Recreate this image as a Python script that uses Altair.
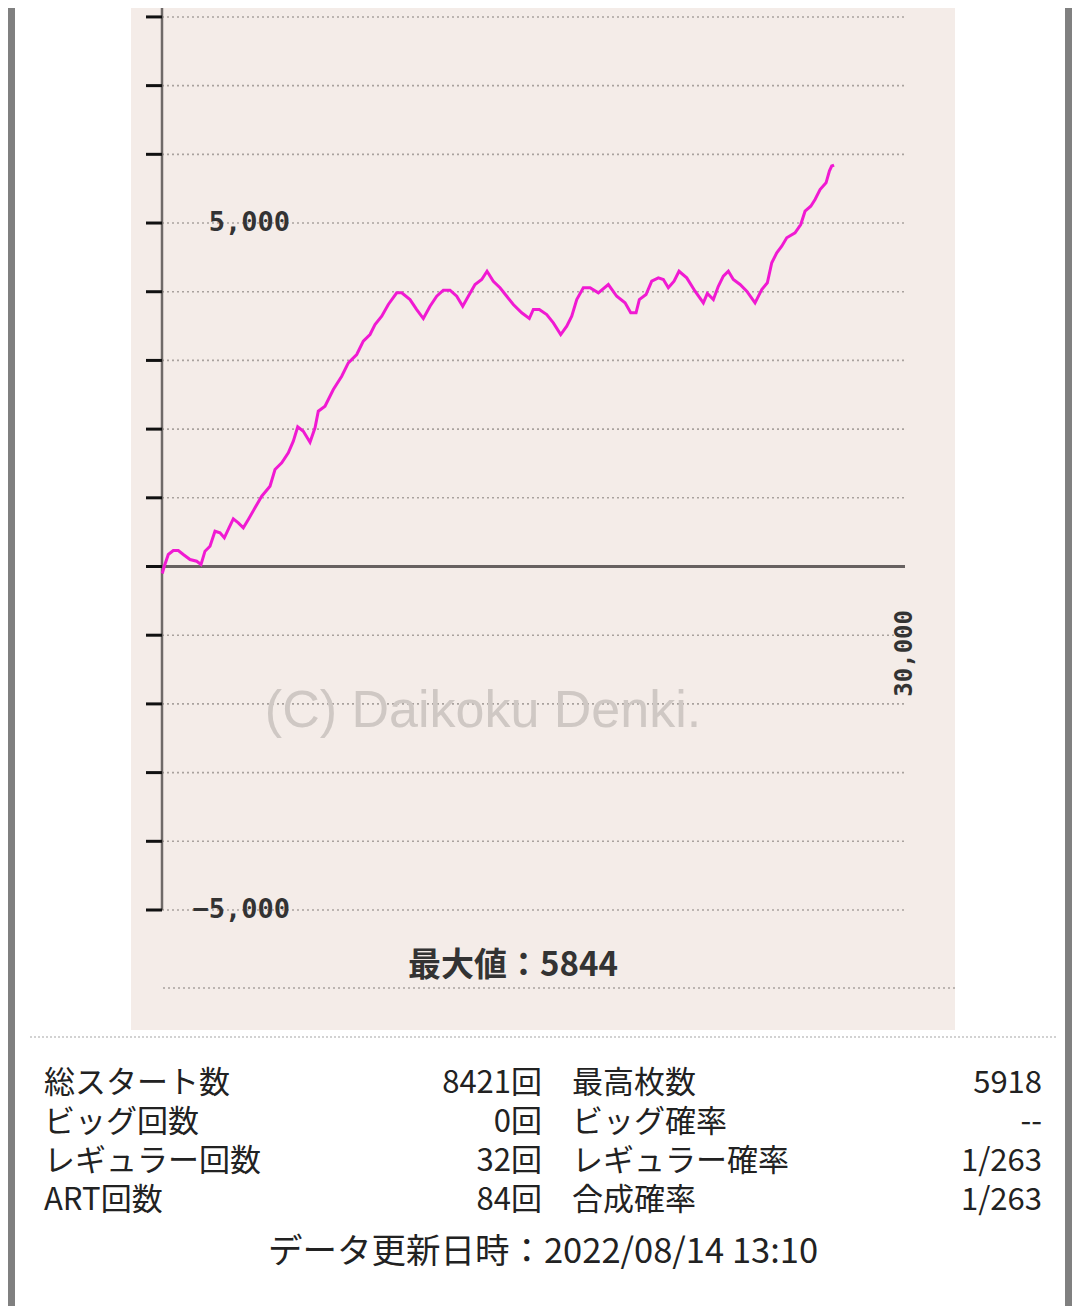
import altair as alt
import pandas as pd

# ---- data ----
games = [10, 93, 254, 456, 658, 860, 1131, 1401, 1575, 1736, 1938, 2140, 2342, 2516, 2705,
         2879, 3081, 3283, 3485, 3755, 4026, 4361, 4563, 4834, 5100, 5302, 5480, 5706, 5976,
         6178, 6311, 6582, 6917, 7256, 7523, 7862, 8128, 8399, 8601, 8872, 9138, 9477, 9679,
         10014, 10285, 10551, 10822, 11092, 11359, 11629, 11900, 12142, 12368, 12639, 12909,
         13124, 13378, 13648, 13919, 14185, 14525, 14831, 14993, 15235, 15534, 15801, 16099,
         16342, 16544, 16746, 17012, 17283, 17618, 18022, 18361, 18696, 18926, 19140, 19273,
         19544, 19774, 20041, 20243, 20444, 20675, 20876, 21187, 21523, 21858, 22019, 22262,
         22463, 22665, 22867, 23069, 23340, 23610, 23945, 24216, 24442, 24620, 24822, 25023,
         25225, 25560, 25791, 25964, 26195, 26368, 26570, 26812, 26950, 27040, 27136]
medals = [-102, 4, 175, 233, 233, 175, 102, 77, 29, 223, 295, 514, 491, 418, 563,
          694, 636, 563, 684, 854, 1023, 1169, 1412, 1509, 1655, 1824, 2033, 1969, 1809,
          2019, 2261, 2333, 2576, 2770, 2965, 3086, 3280, 3377, 3523, 3643, 3814, 3984, 3984,
          3886, 3741, 3610, 3789, 3934, 4022, 4022, 3934, 3789, 3934, 4105, 4178,
          4298, 4153, 4057, 3934, 3814, 3693, 3610, 3741, 3741, 3668, 3547, 3377,
          3498, 3643, 3886, 4057, 4057, 3984, 4105, 3934, 3838, 3693, 3693, 3886,
          3959, 4153, 4202, 4178, 4057, 4153, 4298, 4202, 4007, 3838, 3974, 3886,
          4080, 4226, 4298, 4178, 4105, 4007, 3838, 4032, 4130, 4421, 4566, 4662,
          4785, 4857, 4978, 5172, 5245, 5342, 5488, 5585, 5760, 5830, 5844]

grid_values = [8000, 7000, 6000, 5000, 4000, 3000, 2000, 1000,
               -1000, -2000, -3000, -4000, -5000]
tick_values = [8000, 7000, 6000, 5000, 4000, 3000, 2000, 1000, 0,
               -1000, -2000, -3000, -4000, -5000]
y_label_values = [5000, -5000]
x_label_value = 30000
max_value = 5844

left_labels = ["総スタート数", "ビッグ回数", "レギュラー回数", "ART回数"]
left_values = ["8421回", "0回", "32回", "84回"]
right_labels = ["最高枚数", "ビッグ確率", "レギュラー確率", "合成確率"]
right_values = ["5918", "--", "1/263", "1/263"]
updated = "2022/08/14 13:10"

# ---- build ----
W, H = 1064, 1298
xs = alt.Scale(domain=[0, 30000], range=[154, 897], nice=False, zero=False)
ys = alt.Scale(domain=[-5000, 8130], range=[902, 0], nice=False, zero=False)

one = alt.Chart(pd.DataFrame({"k": [0]}))

side_left = one.mark_rect(color="#808080").encode(
    x=alt.value(0), x2=alt.value(7), y=alt.value(-10), y2=alt.value(H + 10))
side_right = one.mark_rect(color="#808080").encode(
    x=alt.value(1057), x2=alt.value(W), y=alt.value(-10), y2=alt.value(H + 10))
panel = one.mark_rect(color="#f4ece8").encode(
    x=alt.value(123), x2=alt.value(947), y=alt.value(-10), y2=alt.value(1022))

grid_df = pd.DataFrame({"v": grid_values})
grid = alt.Chart(grid_df).transform_calculate(x0="0", x1="30000").mark_rule(
    color="#a9a29e", strokeDash=[2, 3], strokeWidth=1.6
).encode(
    y=alt.Y("v:Q", scale=ys, axis=None),
    x=alt.X("x0:Q", scale=xs, axis=None),
    x2="x1:Q",
)

bottom_dots = one.mark_rule(color="#a9a29e", strokeDash=[2, 3], strokeWidth=1.6).encode(
    x=alt.value(155), x2=alt.value(947), y=alt.value(980))

sep = one.mark_rule(color="#c4c4c4", strokeDash=[2, 2], strokeWidth=1.5).encode(
    x=alt.value(22), x2=alt.value(1049), y=alt.value(1029))

axis_line = one.transform_calculate(x0="0", y0="-5000").mark_rule(
    color="#6f6a68", strokeWidth=2.5
).encode(
    x=alt.X("x0:Q", scale=xs, axis=None),
    y=alt.Y("y0:Q", scale=ys, axis=None),
    y2=alt.value(-10),
)

zero_line = one.transform_calculate(x0="0", x1="30000", y0="0").mark_rule(
    color="#676160", strokeWidth=2.8
).encode(
    x=alt.X("x0:Q", scale=xs, axis=None),
    x2="x1:Q",
    y=alt.Y("y0:Q", scale=ys, axis=None),
)

ticks = alt.Chart(pd.DataFrame({"v": tick_values})).mark_rule(
    color="#111111", strokeWidth=3
).encode(
    y=alt.Y("v:Q", scale=ys, axis=None),
    x=alt.value(138), x2=alt.value(154),
)

ylab = alt.Chart(pd.DataFrame({"v": y_label_values})).transform_calculate(
    t="format(datum.v, ',')"
).mark_text(
    align="right", baseline="middle", font="DejaVu Sans Mono", fontSize=27,
    fontWeight="bold", color="#333333"
).encode(
    y=alt.Y("v:Q", scale=ys, axis=None), x=alt.value(282), text="t:N")

xlab = alt.Chart(pd.DataFrame({"v": [x_label_value]})).transform_calculate(
    t="format(datum.v, ',')"
).mark_text(
    align="right", baseline="middle", angle=270, font="DejaVu Sans Mono",
    fontSize=24, fontWeight="bold", color="#333333"
).encode(
    x=alt.X("v:Q", scale=xs, axis=None), y=alt.value(602), text="t:N")

watermark = one.mark_text(
    text="(C) Daikoku Denki.", font="Liberation Sans", fontSize=52,
    color="#cfc8c4", align="center", baseline="middle"
).encode(x=alt.value(475), y=alt.value(703))

line_df = pd.DataFrame({"games": games, "medals": medals, "i": range(len(games))})
line = alt.Chart(line_df).mark_line(color="#f01ad2", strokeWidth=3).encode(
    x=alt.X("games:Q", scale=xs, axis=None),
    y=alt.Y("medals:Q", scale=ys, axis=None),
    order="i:Q",
)

maxlab = one.mark_text(
    text=f"最大値：{max_value}", font="Noto Sans CJK JP", fontSize=33,
    fontWeight="bold", color="#333333", align="center", baseline="middle"
).encode(x=alt.value(505), y=alt.value(958))

stats = pd.DataFrame({
    "row": range(4),
    "ll": left_labels, "lv": left_values,
    "rl": right_labels, "rv": right_values,
})
txt_style = dict(font="Noto Sans CJK JP", fontSize=31, color="#222222", baseline="middle")


def col(field, xpix, align):
    return alt.Chart(stats).transform_calculate(py="1076 + datum.row * 39").mark_text(
        align=align, **txt_style
    ).encode(x=alt.value(xpix), y=alt.Y("py:Q", scale=None), text=f"{field}:N")


footer = one.mark_text(
    text=f"データ更新日時：{updated}", font="Noto Sans CJK JP", fontSize=34.5,
    color="#222222", align="center", baseline="middle"
).encode(x=alt.value(535), y=alt.value(1245))

chart = alt.layer(
    side_left, side_right, panel, grid, bottom_dots, sep, zero_line, axis_line, ticks,
    watermark, line, ylab, xlab, maxlab,
    col("ll", 36, "left"), col("lv", 534, "right"),
    col("rl", 564, "left"), col("rv", 1034, "right"),
    footer,
).properties(
    width=W, height=H, autosize=alt.AutoSizeParams(type="none"), padding=0,
    background="white",
).configure_view(stroke=None)

chart.save("out.html", embed_options={"renderer": "svg", "actions": False})
